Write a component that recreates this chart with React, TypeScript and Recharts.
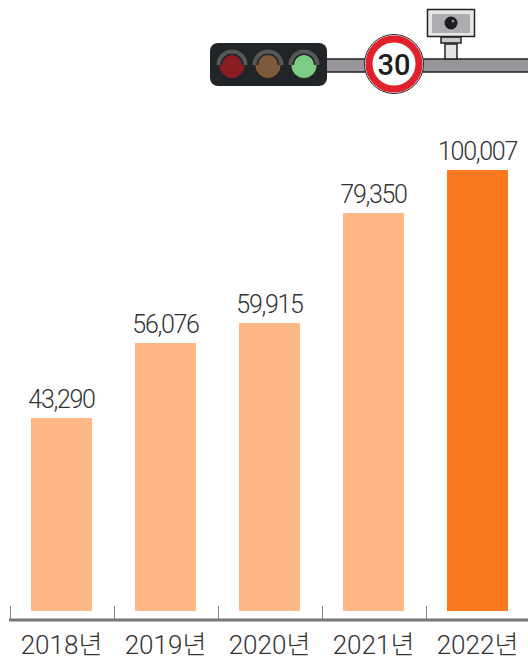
import { Bar, BarChart, Cell, LabelList, XAxis, YAxis } from "recharts";

const YEARS = ["2018년", "2019년", "2020년", "2021년", "2022년"];
// the numbers printed above the bars
const PRINTED_VALUES = ["43,290", "56,076", "59,915", "79,350", "100,007"];
// bar heights as drawn: the picture's bars are not proportional to the printed numbers,
// so these are read off the bars themselves, on the scale of the tallest one
const DRAWN_HEIGHTS = [43770, 60780, 65310, 90260, 100007];
const FILLS = ["#FFB885", "#FFB885", "#FFB885", "#FFB885", "#F97A1F"];

const chartData = YEARS.map((year, i) => ({
	year,
	height: DRAWN_HEIGHTS[i],
	printed: PRINTED_VALUES[i],
}));

const FONT = "Roboto, 'Noto Sans CJK KR', sans-serif";

function YearTick({ x, y, payload }: any) {
	return (
		<g>
			<line x1={x - 50.5} x2={x - 50.5} y1={606} y2={619} stroke="#8a8a8a" strokeWidth={1} />
			<text
				x={x + 0.5}
				y={y + 26}
				textAnchor="middle"
				fontFamily={FONT}
				fontWeight={300}
				fontSize={26}
				letterSpacing={0}
				fill="#333"
			>
				{payload.value}
			</text>
		</g>
	);
}

// traffic light, speed sign and camera above the bars
function RoadIcon() {
	return (
		<svg
			width={528}
			height={100}
			style={{ position: "absolute", left: 0, top: 0 }}
		>
			<rect x={326} y={59} width={204} height={13} fill="#98959b" stroke="#222" strokeWidth={1.5} />
			<rect x={445} y={44} width={12} height={15} fill="#e4e4e4" stroke="#222" strokeWidth={1.5} />
			<rect x={441} y={37} width={20} height={6} fill="#c9c9cc" stroke="#222" strokeWidth={1.5} />
			<rect x={427.5} y={9.5} width={47} height={27} fill="#e6e6e8" stroke="#222" strokeWidth={1.5} />
			<rect x={432} y={14} width={38} height={19} fill="#adacb1" />
			<circle cx={451} cy={23} r={6.5} fill="#1d1d1f" />
			<circle cx={453} cy={21} r={1.5} fill="#8d8d8d" />
			<rect x={210} y={43} width={117} height={43} rx={8} fill="#222527" />
			{[
				{ cx: 232, fill: "#8a1c24" },
				{ cx: 268, fill: "#7c5a3a" },
				{ cx: 304, fill: "#7ecb85" },
			].map((lamp) => (
				<g key={lamp.cx}>
					<circle cx={lamp.cx} cy={65.5} r={12.5} fill={lamp.fill} />
					<path
						d={`M ${lamp.cx - 13.5} 65 A 13.5 13.5 0 0 1 ${lamp.cx + 13.5} 65`}
						fill="none"
						stroke="#222527"
						strokeWidth={7}
					/>
					<path
						d={`M ${lamp.cx - 13.5} 65 A 13.5 13.5 0 0 1 ${lamp.cx + 13.5} 65`}
						fill="none"
						stroke="#57585a"
						strokeWidth={4}
					/>
				</g>
			))}
			<circle cx={394} cy={64} r={29.5} fill="#fff" stroke="#222" strokeWidth={1} />
			<circle cx={394} cy={64} r={25} fill="#fff" stroke="#e2202c" strokeWidth={7} />
			<text
				x={394}
				y={74.5}
				textAnchor="middle"
				fontFamily="Roboto, sans-serif"
				fontWeight={500}
				fontSize={29}
				fill="#1d1d1f"
			>
				30
			</text>
		</svg>
	);
}

export default function App() {
	return (
		<div
			style={{
				position: "absolute",
				left: 0,
				top: 0,
				width: 528,
				height: 657,
				overflow: "hidden",
				background: "#fff",
			}}
		>
			<RoadIcon />
			<BarChart
				width={530}
				height={657}
				data={chartData}
				margin={{ top: 100, right: 1, bottom: 0, left: 9 }}
			>
				<YAxis hide domain={[-2041, 115880]} allowDataOverflow />
				<XAxis
					dataKey="year"
					height={37}
					interval={0}
					tickLine={false}
					axisLine={{ stroke: "#777", strokeWidth: 3 }}
					tick={<YearTick />}
				/>
				<Bar dataKey="height" barSize={61} isAnimationActive={false}>
					{chartData.map((_, index) => (
						<Cell key={`cell-${index.toString()}`} fill={FILLS[index]} />
					))}
					<LabelList
						dataKey="printed"
						position="top"
						offset={10}
						fontFamily={FONT}
						fontWeight={300}
						fontSize={25}
						letterSpacing={-1.3}
						fill="#333"
					/>
				</Bar>
			</BarChart>
		</div>
	);
}
